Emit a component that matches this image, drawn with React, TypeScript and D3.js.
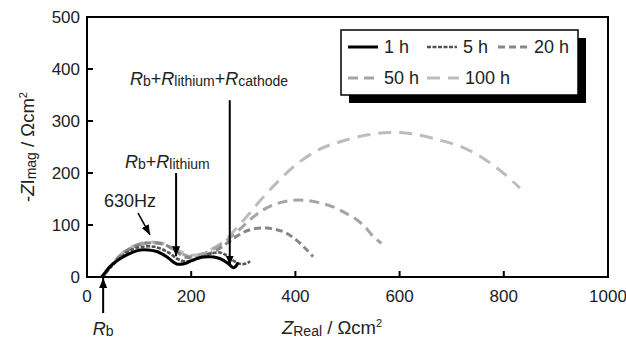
import React from 'react';
import * as d3 from 'd3';

const W = 626;
const H = 342;

const xTicks = [0, 200, 400, 600, 800, 1000];
const yTicks = [0, 100, 200, 300, 400, 500];

const h1X = [28, 35, 44, 56, 70, 86, 102, 118, 134, 153, 172, 188, 204, 220, 236, 250, 262, 272, 281, 286, 290];
const h1Y = [0, 9, 20, 30, 39, 47, 52, 52, 49, 39, 25, 26, 33, 38, 39, 37, 32, 25, 18, 21, 28];

const h5X = [30, 45, 65, 85, 105, 130, 155, 175, 195, 215, 235, 255, 270, 283, 295, 305, 313];
const h5Y = [0, 18, 38, 52, 58, 58, 48, 34, 30, 36, 44, 47, 40, 30, 25, 26, 30];

const h20X = [30, 50, 75, 100, 125, 150, 170, 190, 210, 230, 250, 270, 290, 313, 345, 377, 402, 422, 434];
const h20Y = [0, 26, 50, 62, 66, 62, 50, 38, 37, 43, 52, 66, 80, 91, 94, 87, 71, 52, 39];

const h50X = [30, 52, 78, 105, 130, 155, 175, 195, 215, 240, 262, 282, 300, 320, 345, 375, 409, 445, 472, 498, 518, 535, 549, 565];
const h50Y = [0, 28, 52, 64, 66, 60, 48, 40, 42, 52, 66, 82, 98, 116, 133, 144, 148, 143, 135, 122, 110, 95, 78, 65];

const h100X = [30, 52, 78, 105, 130, 155, 178, 198, 218, 240, 262, 285, 310, 335, 365, 400, 447, 486, 537, 582, 626, 678, 722, 761, 799, 831];
const h100Y = [0, 30, 54, 65, 67, 62, 50, 42, 44, 54, 68, 92, 120, 150, 182, 215, 246, 260, 273, 278, 275, 263, 249, 228, 200, 171];

const seriesNames = ['1 h', '5 h', '20 h', '50 h', '100 h'];
const seriesX = [h1X, h5X, h20X, h50X, h100X];
const seriesY = [h1Y, h5Y, h20Y, h50Y, h100Y];

const styles = [
  { color: '#000000', dash: '', width: 3 },
  { color: '#555555', dash: '4,1.5', width: 2.6 },
  { color: '#888888', dash: '7,4', width: 3 },
  { color: '#a5a5a5', dash: '10,6', width: 3 },
  { color: '#bdbdbd', dash: '13,8', width: 3 },
];

const FONT = 'Liberation Sans, Arial, sans-serif';

export default function App() {
  const x = d3.scaleLinear().domain([0, 1000]).range([87, 608]);
  const y = d3.scaleLinear().domain([0, 500]).range([277, 17]);
  const line = d3
    .line<[number, number]>()
    .x((d) => x(d[0]))
    .y((d) => y(d[1]))
    .curve(d3.curveCatmullRom.alpha(0.5));

  const paths = seriesX.map((xs, i) => line(xs.map((v, j) => [v, seriesY[i][j]] as [number, number])) || '');

  const legendPos = [
    [348, 47],
    [427, 47],
    [498, 47],
    [348, 78],
    [427, 78],
  ];

  return (
    <div style={{ position: 'absolute', left: 0, top: 0 }}>
      <svg width={W} height={H} xmlns="http://www.w3.org/2000/svg" style={{ display: 'block', background: '#fff' }}>
        <defs>
          <marker id="ah" markerUnits="userSpaceOnUse" markerWidth="12" markerHeight="10" refX="10" refY="4" orient="auto">
            <path d="M0,0 L10,4 L0,8 Z" fill="#000" />
          </marker>
        </defs>
        <rect x={0} y={0} width={W} height={H} fill="#fff" />

        {[4, 3, 2, 1, 0].map((i) => (
          <path
            key={i}
            d={paths[i]}
            fill="none"
            stroke={styles[i].color}
            strokeWidth={styles[i].width}
            strokeDasharray={styles[i].dash}
            strokeLinejoin="round"
          />
        ))}

        <rect x={x(0)} y={y(500)} width={x(1000) - x(0)} height={y(0) - y(500)} fill="none" stroke="#000" strokeWidth={2} />

        {xTicks.map((t) => (
          <g key={'x' + t}>
            {t > 0 && t < 1000 && <line x1={x(t)} x2={x(t)} y1={y(0)} y2={y(0) - 6} stroke="#000" strokeWidth={2} />}
            <text x={x(t)} y={302} textAnchor="middle" fontFamily={FONT} fontSize={17} fill="#222">
              {t}
            </text>
          </g>
        ))}
        {yTicks.map((t) => (
          <g key={'y' + t}>
            {t > 0 && t < 500 && <line x1={x(0)} x2={x(0) + 6} y1={y(t)} y2={y(t)} stroke="#000" strokeWidth={2} />}
            <text x={80} y={y(t) + 6} textAnchor="end" fontFamily={FONT} fontSize={17} fill="#222">
              {t}
            </text>
          </g>
        ))}

        <text x={332} y={334} textAnchor="middle" fontFamily={FONT} fontSize={18.5} fill="#222">
          <tspan fontStyle="italic">Z</tspan>
          <tspan fontSize={14} dy={2}>Real</tspan>
          <tspan dy={-2}> / Ωcm</tspan>
          <tspan fontSize={11} dy={-7}>2</tspan>
        </text>
        <text transform="translate(34,147) rotate(-90)" textAnchor="middle" fontFamily={FONT} fontSize={18.5} fill="#222">
          <tspan>-</tspan>
          <tspan fontStyle="italic">Z</tspan>
          <tspan>I</tspan>
          <tspan fontSize={14} dy={2}>mag</tspan>
          <tspan dy={-2}> / Ωcm</tspan>
          <tspan fontSize={11} dy={-7}>2</tspan>
        </text>

        <line x1={x(31)} x2={x(31)} y1={313} y2={y(0) + 1} stroke="#000" strokeWidth={2} markerEnd="url(#ah)" />
        <text x={x(31)} y={335} textAnchor="middle" fontFamily={FONT} fontSize={18} fill="#222">
          <tspan fontStyle="italic">R</tspan>
          <tspan fontSize={14} dy={1}>b</tspan>
        </text>

        <line x1={x(171)} x2={x(171)} y1={y(200)} y2={y(40)} stroke="#000" strokeWidth={2} markerEnd="url(#ah)" />
        <text x={125} y={168} fontFamily={FONT} fontSize={18} fill="#222">
          <tspan fontStyle="italic">R</tspan>
          <tspan fontSize={14} dy={1}>b</tspan>
          <tspan dy={-1}>+</tspan>
          <tspan fontStyle="italic">R</tspan>
          <tspan fontSize={14} dy={1}>lithium</tspan>
        </text>

        <line x1={x(274)} x2={x(274)} y1={y(340)} y2={y(22)} stroke="#000" strokeWidth={2} markerEnd="url(#ah)" />
        <text x={130} y={85} fontFamily={FONT} fontSize={18} fill="#222">
          <tspan fontStyle="italic">R</tspan>
          <tspan fontSize={14} dy={1}>b</tspan>
          <tspan dy={-1}>+</tspan>
          <tspan fontStyle="italic">R</tspan>
          <tspan fontSize={14} dy={1}>lithium</tspan>
          <tspan dy={-1}>+</tspan>
          <tspan fontStyle="italic">R</tspan>
          <tspan fontSize={14} dy={1}>cathode</tspan>
        </text>

        <text x={104} y={207} fontFamily={FONT} fontSize={18} fill="#222">
          630Hz
        </text>
        <line x1={x(98)} x2={x(121)} y1={y(123)} y2={y(81)} stroke="#000" strokeWidth={1.5} markerEnd="url(#ah)" />

        <rect x={349} y={38} width={237} height={65} fill="#000" />
        <rect x={341} y={30} width={237} height={65} fill="#fff" stroke="#000" strokeWidth={1.5} />
        {seriesNames.map((name, i) => {
          const [lx, ly] = legendPos[i];
          const len = i === 4 ? 32 : 30;
          return (
            <g key={name}>
              <line
                x1={lx}
                x2={lx + len}
                y1={ly}
                y2={ly}
                stroke={styles[i].color}
                strokeWidth={styles[i].width}
                strokeDasharray={styles[i].dash}
              />
              <text x={lx + len + 6} y={ly + 6} fontFamily={FONT} fontSize={18} fill="#222">
                {name}
              </text>
            </g>
          );
        })}
      </svg>
    </div>
  );
}
